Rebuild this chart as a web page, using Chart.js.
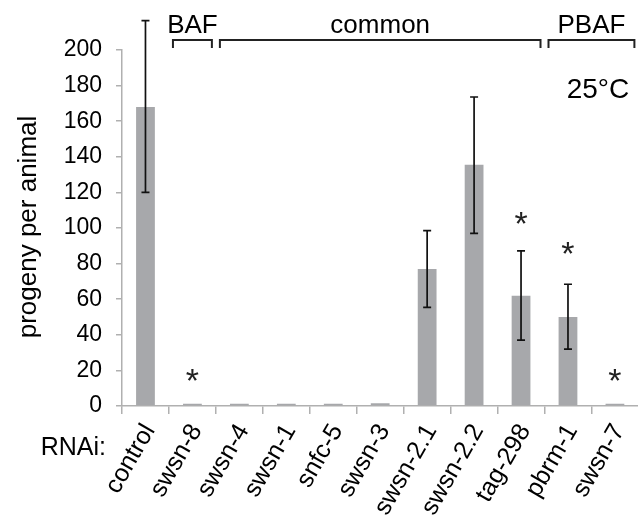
<!DOCTYPE html>
<html>
<head>
<meta charset="utf-8">
<script src="https://cdn.jsdelivr.net/npm/chart.js@4.4.0/dist/chart.umd.min.js"></script>
<style>
    html, body { margin: 0; padding: 0; background: #fff; overflow: hidden; }
    #wrap { width: 646px; height: 517px; }
</style>
</head>
<body>
<div id="wrap"><canvas id="progeny-canvas"></canvas></div>
<script>
// data (25°C, progeny per animal)
const rnaiLabels = ['control', 'swsn-8', 'swsn-4', 'swsn-1', 'snfc-5', 'swsn-3', 'swsn-2.1', 'swsn-2.2', 'tag-298', 'pbrm-1', 'swsn-7'];
const progeny = [168, 1.2, 1.2, 1.2, 1.2, 1.6, 77, 135.5, 62, 50, 1.2];
const errLow = [120, null, null, null, null, null, 55.4, 97, 37, 32, null];
const errHigh = [216.5, null, null, null, null, null, 98.5, 173.6, 87.2, 68.4, null];
const starAt = [null, 16, null, null, null, null, null, null, 104, 87, 16];
const complexes = [
    { label: 'BAF', from: 1, to: 1 },
    { label: 'common', from: 2, to: 8 },
    { label: 'PBAF', from: 9, to: 10 },
];
const yTicks = [0, 20, 40, 60, 80, 100, 120, 140, 160, 180, 200];

const FONT = '"Liberation Sans", Arial, sans-serif';
const AXIS_GREY = '#b0b0b0';

const extrasPlugin = {
    id: 'extras',
    afterDatasetsDraw(chart) {
        const ctx = chart.ctx;
        const x = chart.scales.x;
        const y = chart.scales.y;
        const half = (x.getPixelForValue(1) - x.getPixelForValue(0)) / 2;

        ctx.save();
        // error bars
        ctx.strokeStyle = '#111';
        ctx.lineWidth = 1.7;
        errLow.forEach((lo, i) => {
            if (lo === null) return;
            const px = x.getPixelForValue(i);
            const y1 = y.getPixelForValue(lo);
            const y2 = y.getPixelForValue(errHigh[i]);
            ctx.beginPath();
            ctx.moveTo(px, y1); ctx.lineTo(px, y2);
            ctx.moveTo(px - 4, y1); ctx.lineTo(px + 4, y1);
            ctx.moveTo(px - 4, y2); ctx.lineTo(px + 4, y2);
            ctx.stroke();
        });

        // significance stars
        ctx.fillStyle = '#222';
        ctx.font = '34px ' + FONT;
        ctx.textAlign = 'center';
        ctx.textBaseline = 'alphabetic';
        starAt.forEach((v, i) => {
            if (v === null) return;
            ctx.fillText('*', x.getPixelForValue(i), y.getPixelForValue(v) + 14);
        });

        // complex brackets
        ctx.strokeStyle = '#222';
        ctx.lineWidth = 2;
        ctx.fillStyle = '#000';
        ctx.font = '26px ' + FONT;
        complexes.forEach((g) => {
            const a = x.getPixelForValue(g.from) - half + 4;
            const b = x.getPixelForValue(g.to) + half - 4;
            ctx.beginPath();
            ctx.moveTo(a, 48); ctx.lineTo(a, 40); ctx.lineTo(b, 40); ctx.lineTo(b, 48);
            ctx.stroke();
            ctx.fillText(g.label, (a + b) / 2, 33);
        });

        // other text
        ctx.font = '28px ' + FONT;
        ctx.fillText('25°C', 598, 98);
        ctx.textAlign = 'right';
        ctx.font = '25px ' + FONT;
        ctx.fillText('RNAi:', 106, 455);
        ctx.translate(36, 227);
        ctx.rotate(-Math.PI / 2);
        ctx.textAlign = 'center';
        ctx.font = '26px ' + FONT;
        ctx.fillText('progeny per animal', 0, 0);
        ctx.restore();
    }
};

new Chart(document.getElementById('progeny-canvas'), {
    type: 'bar',
    plugins: [extrasPlugin],
    data: {
        labels: rnaiLabels,
        datasets: [{
            label: 'progeny per animal',
            data: progeny,
            backgroundColor: '#a7a8ab',
            borderWidth: 0,
            barPercentage: 0.4,
            categoryPercentage: 1,
        }]
    },
    options: {
        responsive: true,
        maintainAspectRatio: false,
        animation: false,
        layout: { padding: { left: 0, right: 2, top: 50, bottom: 0 } },
        plugins: {
            legend: { display: false },
            tooltip: { enabled: false },
        },
        scales: {
            x: {
                afterFit: (scale) => { scale.height = 111; },
                grid: { drawOnChartArea: false, tickLength: 8, color: AXIS_GREY, lineWidth: 1.5 },
                border: { color: AXIS_GREY, width: 1.5 },
                ticks: {
                    autoSkip: false,
                    minRotation: 60,
                    maxRotation: 60,
                    padding: 5,
                    labelOffset: 4,
                    color: '#000',
                    font: { family: FONT, size: 25 },
                },
            },
            y: {
                min: 0,
                max: 200,
                afterFit: (scale) => { scale.width = 122; },
                afterBuildTicks: (scale) => { scale.ticks = yTicks.map((v) => ({ value: v })); },
                grid: { drawOnChartArea: false, tickLength: 6, color: AXIS_GREY, lineWidth: 1.5 },
                border: { color: AXIS_GREY, width: 1.5 },
                ticks: {
                    padding: 14,
                    color: '#000',
                    font: { family: FONT, size: 23 },
                },
            }
        }
    }
});
</script>
</body>
</html>
